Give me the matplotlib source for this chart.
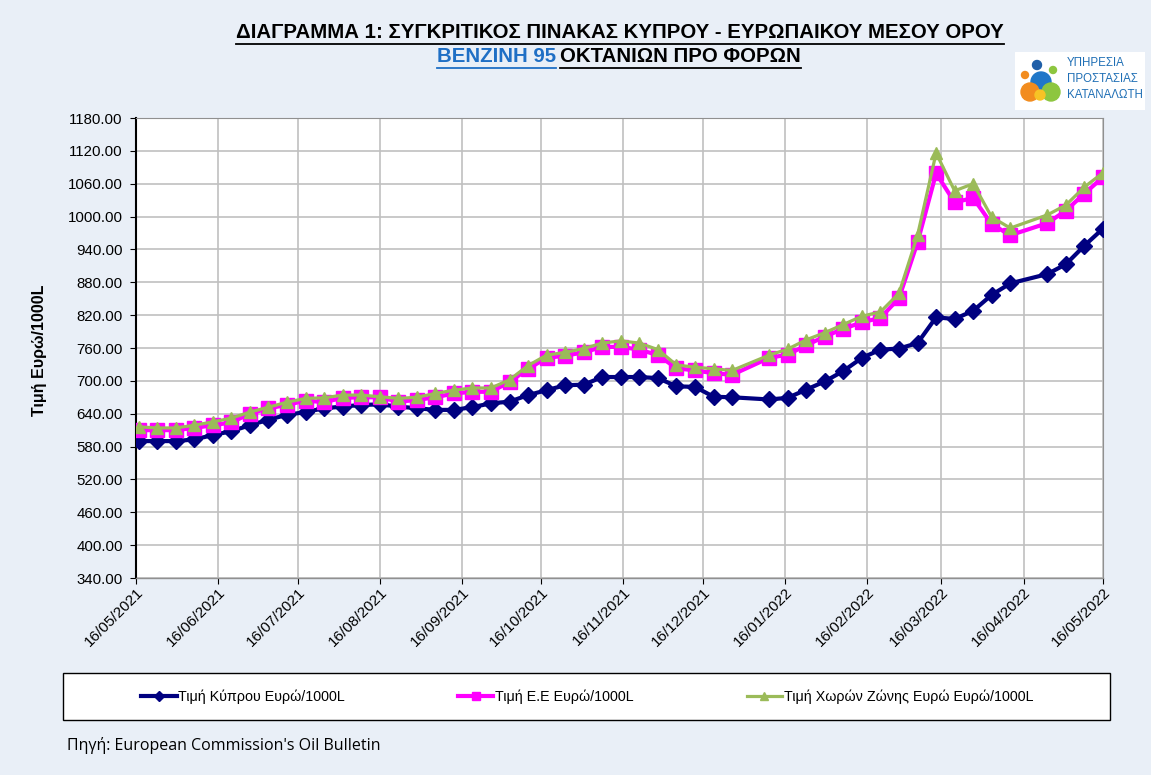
import datetime as dt
import matplotlib
matplotlib.use('Agg')
import matplotlib.pyplot as plt
import matplotlib.dates as mdates
from matplotlib.patches import Rectangle, Circle
from matplotlib.lines import Line2D

# weekly Oil Bulletin dates (gaps on 03/01/2022 and 18/04/2022)
dates = (
    [dt.date(2021, 5, 17) + dt.timedelta(weeks=i) for i in range(33)]
    + [dt.date(2022, 1, 10) + dt.timedelta(weeks=i) for i in range(14)]
    + [dt.date(2022, 4, 25) + dt.timedelta(weeks=i) for i in range(4)]
)

cyprus = [590, 590, 590, 593, 601, 608, 619, 629, 638, 643, 650, 653, 656, 657,
          653, 650, 647, 647, 652, 659, 662, 674, 683, 692, 693, 707, 707, 707,
          705, 690, 689, 671, 670,
          666, 669, 684, 699, 718, 742, 757, 759, 769, 816, 813, 828, 857, 878,
          895, 913, 947, 978]

eu = [610, 610, 610, 614, 619, 624, 640, 650, 656, 664, 661, 669, 670, 670,
      662, 665, 670, 677, 680, 680, 698, 722, 742, 746, 752, 762, 762, 757,
      747, 723, 719, 714, 711,
      742, 748, 765, 781, 795, 807, 815, 851, 953, 1079, 1026, 1034, 986, 966,
      988, 1011, 1042, 1072]

euro_zone = [616, 614, 614, 619, 625, 632, 643, 652, 661, 668, 669, 674, 674, 671,
             668, 670, 677, 683, 687, 687, 702, 728, 747, 752, 759, 769, 773, 769,
             757, 729, 725, 722, 719,
             747, 758, 775, 788, 803, 818, 826, 860, 966, 1116, 1047, 1060, 999, 979,
             1003, 1021, 1054, 1080]

series_names = ['Τιμή Κύπρου Ευρώ/1000L', 'Τιμή Ε.Ε Ευρώ/1000L',
                'Τιμή Χωρών Ζώνης Ευρώ Ευρώ/1000L']
y_ticks = list(range(340, 1181, 60))
x_ticks = [dt.date(2021, m, 16) for m in range(5, 13)] + [dt.date(2022, m, 16) for m in range(1, 6)]

plt.rcParams['font.family'] = ['Liberation Sans', 'DejaVu Sans']

W, H = 1151, 775
bg = '#E9EFF7'
fig = plt.figure(figsize=(W / 100, H / 100), dpi=100, facecolor=bg)
renderer = fig.canvas.get_renderer()


def fx(px):
    return px / W


def fy(py):
    return 1 - py / H


def fit_width(t, target_px):
    # shrink/grow a text so that it spans target_px
    w = t.get_window_extent(renderer).width
    t.set_fontsize(t.get_fontsize() * target_px / w)


ax = fig.add_axes([fx(136), fy(578), fx(1103) - fx(136), fy(118) - fy(578)])
ax.set_facecolor('white')

ax.plot(dates, cyprus, color='#000080', lw=3, marker='D', markersize=8.5, zorder=3)
ax.plot(dates, eu, color='#FF00FF', lw=3, marker='s', markersize=9.5, zorder=4)
ax.plot(dates, euro_zone, color='#9BBB59', lw=2.3, marker='^', markersize=9, zorder=5)

ax.set_ylim(340, 1180)
ax.set_yticks(y_ticks)
ax.set_yticklabels([f'{v:.2f}' for v in y_ticks], fontsize=10.8)
ax.set_xlim(dt.date(2021, 5, 16), dt.date(2022, 5, 16))
ax.set_xticks(x_ticks)
ax.xaxis.set_major_formatter(mdates.DateFormatter('%d/%m/%Y'))
for lbl in ax.get_xticklabels():
    lbl.set_rotation(45)
    lbl.set_ha('right')
    lbl.set_rotation_mode('anchor')
    lbl.set_fontsize(11)
ax.tick_params(axis='x', length=4, pad=1)
ax.tick_params(axis='y', length=4, pad=5.5)
ax.grid(True, color='#C0C0C0', lw=1.2)
ax.set_axisbelow(True)
for side in ['top', 'right']:
    ax.spines[side].set_color('#909090')
ax.spines['left'].set_linewidth(1.5)
ax.spines['bottom'].set_linewidth(1.0)
ax.spines['bottom'].set_color('#909090')

fig.text(fx(40), fy(350), 'Τιμή Ευρώ/1000L', rotation=90, ha='center', va='center',
         fontsize=11.5, fontweight='bold')

# title with underlines
t1 = fig.text(fx(620), fy(33), 'ΔΙΑΓΡΑΜΜΑ 1: ΣΥΓΚΡΙΤΙΚΟΣ ΠΙΝΑΚΑΣ ΚΥΠΡΟΥ - ΕΥΡΩΠΑΙΚΟΥ ΜΕΣΟΥ ΟΡΟΥ',
              ha='center', va='center', fontsize=12, fontweight='bold')
fit_width(t1, 767)
t2a = fig.text(fx(556), fy(57), 'ΒΕΝΖΙΝΗ 95', ha='right', va='center',
               fontsize=t1.get_fontsize(), fontweight='bold', color='#1F6FC5')
t2b = fig.text(fx(560), fy(57), 'ΟΚΤΑΝΙΩΝ ΠΡΟ ΦΟΡΩΝ', ha='left', va='center',
               fontsize=t1.get_fontsize(), fontweight='bold')
for t, c in [(t1, 'black'), (t2a, '#1F6FC5'), (t2b, 'black')]:
    bb = t.get_window_extent(renderer)
    y = (bb.y0 - 1.5) / H
    fig.add_artist(Line2D([bb.x0 / W, bb.x1 / W], [y, y], color=c, lw=1.3))

# logo
lax = fig.add_axes([fx(1015), fy(110), fx(1145) - fx(1015), fy(52) - fy(110)])
lax.set_xlim(1015, 1145)
lax.set_ylim(110, 52)
lax.axis('off')
lax.add_patch(Rectangle((1015, 52), 130, 58, color='white'))
for (cx, cy, r, c) in [(1041, 82, 10, '#1F77C8'), (1030, 92, 9, '#F28C1E'),
                       (1051, 92, 9, '#8DC63F'), (1040, 95, 5, '#F7C325'),
                       (1037, 65, 4.5, '#1F5FA8'), (1025, 75, 3.5, '#F28C1E'),
                       (1053, 70, 3.5, '#8DC63F')]:
    lax.add_patch(Circle((cx, cy), r, color=c))
logo_words = []
for i, word in enumerate(['ΥΠΗΡΕΣΙΑ', 'ΠΡΟΣΤΑΣΙΑΣ', 'ΚΑΤΑΝΑΛΩΤΗ']):
    logo_words.append(lax.text(1067, 63 + i * 16, word, ha='left', va='center', fontsize=10,
                               color='#1F6FB5'))
fit_width(logo_words[2], 76)
for t in logo_words[:2]:
    t.set_fontsize(logo_words[2].get_fontsize())

# legend
fig.add_artist(Rectangle((fx(63), fy(720)), fx(1110) - fx(63), fy(673) - fy(720),
                         transform=fig.transFigure, facecolor='white', edgecolor='black', lw=1))
handles = [Line2D([], [], color='#000080', lw=3, marker='D', markersize=5),
           Line2D([], [], color='#FF00FF', lw=3, marker='s', markersize=6),
           Line2D([], [], color='#9BBB59', lw=2.3, marker='^', markersize=6)]
fig.legend(handles, series_names, loc='center', bbox_to_anchor=(fx(587), fy(697)),
           ncol=3, frameon=False, fontsize=10.3, handlelength=2.5, handletextpad=0.1,
           columnspacing=7.9)

fig.text(fx(67), fy(746), "Πηγή: European Commission's Oil Bulletin", ha='left', va='center',
         fontsize=11.5, family=['Open Sans', 'DejaVu Sans'])

fig.savefig('out.png', dpi=100, facecolor=bg)
